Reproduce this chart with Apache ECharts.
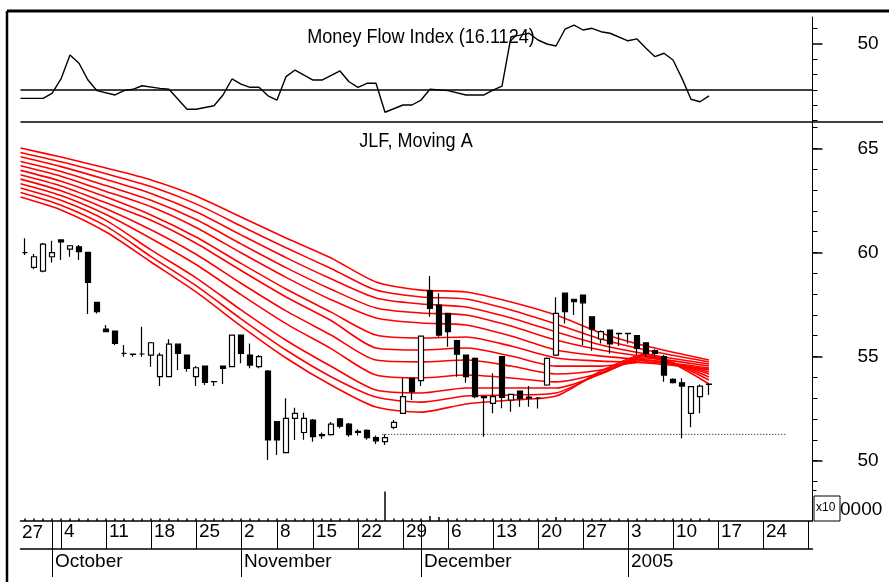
<!DOCTYPE html>
<html>
<head>
<meta charset="utf-8">
<script src="https://cdn.jsdelivr.net/npm/echarts@6.0.0/dist/echarts.min.js"></script>
<style>
html, body { margin: 0; padding: 0; background: #fff; }
#chart { width: 889px; height: 582px; }
</style>
</head>
<body>
<div id="chart"></div>
<script>
var FONT = "'Liberation Sans', Arial, sans-serif";

// trading days on the axis (Nov 1 and Nov 11 are not in the data)
var firstDay = '2004-09-28', lastDay = '2005-01-31';
var missingDays = ['2004-11-01', '2004-11-11'];
var monthKeys = ['2004-10', '2004-11', '2004-12', '2005-01'];
var monthNames = ['October', 'November', 'December', '2005'];

// JLF daily candles: [open, close, low, high]
var ohlc = [
  [59.99, 59.99, 59.88, 60.68], [59.28, 59.79, 59.19, 59.92], [59.10, 60.40, 59.05, 60.45], [59.79, 59.99, 59.52, 60.56],
  [60.60, 60.50, 59.64, 60.62], [60.16, 60.32, 59.79, 60.35], [60.27, 60.03, 59.64, 60.36], [60.00, 58.56, 57.04, 60.02],
  [57.60, 57.15, 57.07, 57.62], [56.32, 56.19, 56.19, 56.51], [56.22, 55.63, 55.55, 56.24], [55.15, 55.15, 54.99, 55.55],
  [55.12, 55.10, 54.99, 55.15], [55.12, 55.12, 54.99, 56.43], [55.07, 55.66, 54.51, 55.70], [54.03, 55.07, 53.58, 55.18],
  [54.03, 55.59, 54.03, 55.83], [55.59, 55.15, 54.35, 55.62], [55.07, 54.43, 54.27, 55.10], [54.03, 54.46, 53.58, 54.54],
  [54.54, 53.76, 53.63, 54.56], [53.80, 53.79, 53.58, 53.82], [54.54, 54.43, 53.68, 54.56], [54.51, 56.03, 54.51, 56.05],
  [56.03, 55.15, 54.67, 56.05], [55.07, 54.59, 54.43, 55.63], [54.51, 54.99, 54.43, 55.07], [54.30, 50.99, 50.03, 54.35],
  [51.87, 50.99, 50.27, 51.90], [50.38, 52.03, 50.38, 52.99], [52.03, 52.27, 50.99, 52.54], [51.35, 52.03, 51.00, 52.30],
  [51.95, 51.15, 50.90, 52.00], [51.25, 51.20, 51.05, 51.35], [51.25, 51.75, 51.20, 51.85], [52.00, 51.65, 51.55, 52.05],
  [51.75, 51.25, 51.15, 51.80], [51.40, 51.35, 51.20, 51.50], [51.45, 51.10, 51.00, 51.50], [51.10, 50.95, 50.80, 51.20],
  [50.91, 51.10, 50.75, 51.27], [51.60, 51.84, 51.50, 51.95], [52.27, 53.07, 52.27, 53.95], [53.95, 53.31, 52.91, 53.97],
  [53.84, 55.98, 53.58, 56.00], [58.16, 57.31, 56.91, 58.87], [57.47, 56.03, 55.95, 58.04], [57.07, 56.19, 55.47, 57.10],
  [55.76, 55.11, 54.03, 55.80], [55.07, 54.03, 53.74, 55.10], [54.91, 53.07, 52.99, 54.95], [53.07, 53.02, 51.15, 53.10],
  [52.75, 53.07, 52.27, 54.19], [54.99, 53.04, 52.51, 55.02], [52.91, 53.18, 52.35, 53.20], [53.34, 52.99, 52.59, 53.36],
  [53.00, 53.05, 52.59, 53.58], [53.00, 53.00, 52.50, 53.05], [53.63, 54.91, 53.60, 54.95], [55.07, 57.07, 55.05, 57.84],
  [58.04, 57.15, 56.59, 58.06], [57.75, 57.63, 56.99, 57.77], [57.95, 57.58, 55.55, 57.97], [56.91, 56.31, 55.28, 56.93],
  [55.84, 56.19, 55.63, 56.25], [56.27, 55.60, 55.15, 56.29], [56.11, 56.10, 55.50, 56.13], [56.11, 56.10, 55.63, 56.13],
  [56.00, 55.39, 55.07, 56.02], [55.66, 55.15, 54.99, 55.68], [55.28, 55.15, 55.00, 55.35], [54.99, 54.11, 53.79, 55.07],
  [53.90, 53.74, 53.70, 53.95], [53.74, 53.58, 51.07, 53.95], [52.27, 53.55, 51.60, 53.58], [53.07, 53.58, 52.27, 53.65],
  [53.68, 53.66, 53.15, 53.70]
];

// volume (x10 0000)
var volume = [
  0.8, 0.8, 0.8, 0.8, 0.8, 0.8, 0.8, 0.8, 0.8, 0.8, 0.8, 0.8, 0.8, 0.8, 0.8, 0.8, 0.8, 0.8, 0.8, 0.8,
  0.8, 0.8, 0.8, 0.8, 0.8, 0.8, 0.8, 0.8, 0.8, 0.8, 0.8, 0.8, 0.8, 0.8, 0.8, 0.8, 0.8, 0.8, 0.8, 0.8,
  9.5, 0.8, 0.8, 0.8, 0.8, 1.6, 1.3, 0.8, 0.8, 0.8, 0.8, 0.8, 0.8, 0.8, 0.8, 0.8, 0.8, 0.8, 0.8, 1.3,
  1.0, 0.8, 0.8, 0.8, 0.8, 0.8, 0.8, 0.8, 0.8, 0.8, 0.8, 0.8, 0.8, 0.8, 0.8, 0.8, 0.8
];

// money flow index, read at these day positions
var mfiDay = [-0.5, 2, 3, 4, 5, 6, 7, 8, 10, 11, 12, 13, 15, 16, 18, 19, 21, 22, 23, 24, 25, 26, 27, 28, 29, 30,
  32, 33, 35, 36, 37, 38, 39, 40, 42, 43, 44, 45, 47, 49, 51, 52, 53, 54, 55, 56, 57, 58, 59, 60, 61, 62, 63, 64,
  65, 67, 68, 69, 70, 71, 72, 73, 74, 75, 76];
var mfiValue = [14.5, 14.5, 17.8, 27.1, 42.7, 37.3, 26.4, 19.5, 16.7, 19.5, 20.4, 22.7, 21.0, 20.4, 7.4, 7.4, 9.7, 16.7, 27.1, 23.8, 21.7, 21.7, 16.2, 13.4, 28.6, 32.9,
  26.4, 26.4, 32.3, 25.3, 21.7, 24.3, 24.3, 5.5, 10.2, 10.2, 13.4, 20.4, 19.5, 16.7, 16.7, 19.9, 22.5, 54.5, 55.6, 56.8, 52.4, 49.8, 48.5, 59.4, 62.1, 58.9, 60.0, 57.8,
  56.8, 51.9, 53.1, 47.0, 41.6, 43.8, 39.4, 27.5, 13.9, 12.3, 16.1];
var mfiLevel = 20;

// moving averages, read at these day positions
var maDay = [-0.5, 4, 9, 14, 19, 24, 29, 34, 39, 44, 49, 54, 59, 64, 69, 76];
var ma1 = [65.01, 64.58, 64.05, 63.48, 62.71, 61.70, 60.69, 59.73, 58.58, 58.19, 58.10, 57.62, 56.99, 56.13, 55.50, 54.83];
var ma2 = [64.80, 64.35, 63.78, 63.16, 62.33, 61.27, 60.22, 59.23, 58.19, 57.86, 57.76, 57.23, 56.56, 55.84, 55.31, 54.74];
var ma3 = [64.59, 64.12, 63.50, 62.83, 61.95, 60.84, 59.75, 58.73, 57.81, 57.52, 57.38, 56.85, 56.18, 55.55, 55.12, 54.64];
var ma4 = [64.37, 63.89, 63.21, 62.51, 61.58, 60.41, 59.27, 58.23, 57.33, 57.09, 56.99, 56.46, 55.79, 55.31, 54.98, 54.54];
var ma5 = [64.16, 63.66, 62.93, 62.19, 61.20, 59.98, 58.80, 57.73, 56.85, 56.61, 56.51, 55.98, 55.31, 55.02, 54.83, 54.45];
var ma6 = [63.94, 63.42, 62.66, 61.80, 60.74, 59.47, 58.24, 57.13, 56.03, 55.89, 55.94, 55.50, 54.93, 54.78, 54.69, 54.40];
var ma7 = [63.73, 63.19, 62.38, 61.54, 60.44, 59.13, 57.86, 56.73, 55.41, 55.31, 55.41, 55.02, 54.54, 54.54, 54.74, 54.35];
var ma8 = [63.52, 62.96, 62.10, 61.09, 59.91, 58.52, 57.19, 56.03, 54.83, 54.74, 54.83, 54.54, 54.16, 54.35, 54.83, 54.26];
var ma9 = [63.30, 62.73, 61.82, 60.67, 59.42, 57.97, 56.58, 55.38, 54.11, 53.97, 54.11, 53.97, 53.78, 54.21, 54.93, 54.16];
var ma10 = [63.09, 62.50, 61.54, 60.12, 58.78, 57.24, 55.78, 54.53, 53.39, 53.25, 53.49, 53.49, 53.49, 54.16, 55.02, 54.02];
var ma11 = [62.88, 62.27, 61.26, 59.80, 58.40, 56.81, 55.31, 54.03, 53.05, 52.81, 53.10, 53.15, 53.25, 54.21, 55.07, 53.87];
var ma12 = [62.66, 62.04, 60.98, 59.54, 58.10, 56.46, 54.93, 53.63, 52.57, 52.33, 52.72, 52.91, 53.10, 54.30, 55.12, 53.68];
var maLines = [ma1, ma2, ma3, ma4, ma5, ma6, ma7, ma8, ma9, ma10, ma11, ma12];

// dotted support line
var supportDay = [39.7, 84.7];
var supportValue = 51.26;

var priceTicks = [49, 50, 51, 52, 53, 54, 55, 56, 57, 58, 59, 60, 61, 62, 63, 64, 65, 66];
var priceLabels = [50, 55, 60, 65];
var mfiTicks = [0, 10, 20, 30, 40, 60];
var mfiLabels = [50];

var dates = [];
var d = new Date(firstDay + 'T00:00:00Z');
var end = new Date(lastDay + 'T00:00:00Z');
while (d <= end) {
  var s = d.toISOString().slice(0, 10);
  var wd = d.getUTCDay();
  if (wd !== 0 && wd !== 6 && missingDays.indexOf(s) < 0) dates.push(s);
  d.setUTCDate(d.getUTCDate() + 1);
}
function dow(s) { return new Date(s + 'T00:00:00Z').getUTCDay(); }
var weekStart = dates.map(function (s, k) { return k > 0 && dow(s) < dow(dates[k - 1]); });
var monthStart = dates.map(function (s, k) { return k > 0 && s.slice(0, 7) !== dates[k - 1].slice(0, 7); });

var myChart = echarts.init(document.getElementById('chart'));
var black = '#000';
var txt = { fontFamily: FONT, fontSize: 19, color: black };

var series = [
  {
    name: 'MFI', type: 'line', xAxisIndex: 0, yAxisIndex: 0,
    data: mfiDay.map(function (x, k) { return [x, mfiValue[k]]; }),
    showSymbol: false, lineStyle: { color: black, width: 1.4 },
    markLine: {
      silent: true, symbol: 'none', label: { show: false },
      lineStyle: { color: black, width: 1.5, type: 'solid' },
      data: [{ yAxis: mfiLevel }]
    }
  },
  {
    name: 'JLF', type: 'candlestick', xAxisIndex: 1, yAxisIndex: 2,
    data: ohlc, barWidth: 6,
    itemStyle: { color: '#fff', color0: black, borderColor: black, borderColor0: black, borderWidth: 1.2 }
  },
  {
    name: 'support', type: 'line', xAxisIndex: 2, yAxisIndex: 2,
    data: supportDay.map(function (x) { return [x, supportValue]; }),
    showSymbol: false, lineStyle: { color: black, width: 1, type: [1, 2] }
  },
  {
    name: 'volume', type: 'bar', xAxisIndex: 3, yAxisIndex: 4,
    data: volume, barWidth: 1.5, itemStyle: { color: black }
  }
];
maLines.forEach(function (ma, n) {
  series.push({
    name: 'MA' + (n + 1), type: 'line', xAxisIndex: 2, yAxisIndex: 2,
    data: maDay.map(function (x, k) { return [x, ma[k]]; }),
    showSymbol: false, smooth: 0.25, lineStyle: { color: '#ff0000', width: 1.6 }, z: 1
  });
});

function rightAxis(grid, min, max, ticks, tickLen, labels) {
  return {
    gridIndex: grid, type: 'value', position: 'right', min: min, max: max,
    splitLine: { show: false },
    axisLine: { show: !labels, onZero: false, lineStyle: { color: black, width: 1 } },
    axisTick: { show: true, length: tickLen, customValues: ticks, lineStyle: { color: black, width: labels ? 1.5 : 1 } },
    axisLabel: labels ? Object.assign({ margin: 45, customValues: labels }, txt) : { show: false }
  };
}

myChart.setOption({
  animation: false,
  grid: [
    { left: 20.5, right: 76.5, top: 17, height: 105 },
    { left: 20.5, right: 76.5, top: 122, height: 368 },
    { left: 20.5, right: 76.5, top: 490, height: 31 }
  ],
  xAxis: [
    { gridIndex: 0, type: 'value', min: -0.5, max: 87.5, show: false },
    { gridIndex: 1, type: 'category', data: dates, boundaryGap: true, show: false },
    { gridIndex: 1, type: 'value', min: -0.5, max: 87.5, show: false },
    {
      gridIndex: 2, type: 'category', data: dates, boundaryGap: true, position: 'bottom',
      axisLine: { onZero: false, lineStyle: { color: black, width: 1.5 } },
      axisTick: { show: true, inside: false, alignWithLabel: true, length: 28, lineStyle: { color: black, width: 1 },
        interval: function (k) { return !!(weekStart[k] || monthStart[k]); } },
      axisLabel: Object.assign({ align: 'left', margin: 1, padding: [0, 0, 0, 3],
        interval: function (k) { return weekStart[k] && k < dates.length - 1; },
        formatter: function (v) { return String(+v.slice(8)); } }, txt)
    },
    {
      gridIndex: 2, type: 'category', data: dates, boundaryGap: true, position: 'bottom', offset: 28,
      axisLine: { onZero: false, lineStyle: { color: black, width: 1.5 } },
      axisTick: { show: true, inside: false, alignWithLabel: true, length: 28, lineStyle: { color: black, width: 1 },
        interval: function (k) { return monthStart[k]; } },
      axisLabel: Object.assign({ align: 'left', margin: 3, padding: [0, 0, 0, 3],
        interval: function (k) { return monthStart[k]; },
        formatter: function (v) { return monthNames[monthKeys.indexOf(v.slice(0, 7))]; } }, txt)
    }
  ],
  yAxis: [
    rightAxis(0, -0.84, 67.34, mfiTicks, 5, null),
    rightAxis(0, -0.84, 67.34, mfiLabels, 10, mfiLabels),
    rightAxis(1, 48.588, 66.263, priceTicks, 5, null),
    rightAxis(1, 48.588, 66.263, priceLabels, 10, priceLabels),
    rightAxis(2, 0, 10, [10], 4, null)
  ],
  graphic: [
    { type: 'line', shape: { x1: 7, y1: 11, x2: 889, y2: 11 }, style: { stroke: black, lineWidth: 3 } },
    { type: 'line', shape: { x1: 7, y1: 11, x2: 7, y2: 582 }, style: { stroke: black, lineWidth: 2.5 } },
    { type: 'line', shape: { x1: 20.5, y1: 122, x2: 883, y2: 122 }, style: { stroke: black, lineWidth: 1.5 } },
    { type: 'text', x: 421, y: 27, scaleX: 0.86,
      style: { text: 'Money Flow Index (16.1124)', x: 0, y: 0, align: 'center', verticalAlign: 'top', font: '21px ' + FONT, fill: black } },
    { type: 'text', x: 416, y: 131, scaleX: 0.86,
      style: { text: 'JLF, Moving A', x: 0, y: 0, align: 'center', verticalAlign: 'top', font: '21px ' + FONT, fill: black } },
    { type: 'text', x: 22, y: 523, style: { text: '27', font: '19px ' + FONT, fill: black } },
    { type: 'rect', shape: { x: 814, y: 496, width: 26, height: 25 }, style: { fill: '#fff', stroke: black, lineWidth: 1 } },
    { type: 'text', x: 816, y: 502, style: { text: 'x10', font: '12px ' + FONT, fill: black } },
    { type: 'text', x: 840, y: 500, style: { text: '0000', font: '19px ' + FONT, fill: black } }
  ],
  series: series
});
</script>
</body>
</html>
